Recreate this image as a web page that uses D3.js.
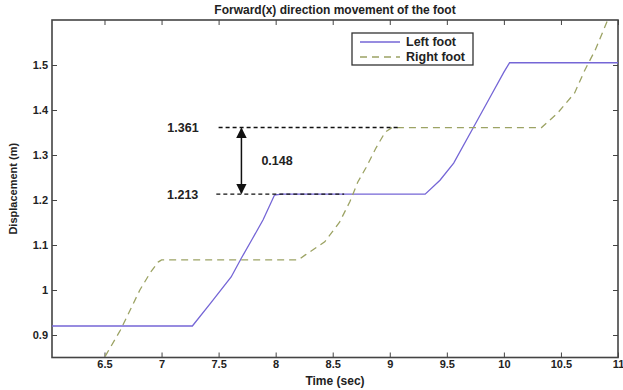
<!DOCTYPE html>
<html>
<head>
<meta charset="utf-8">
<script src="https://cdn.jsdelivr.net/npm/d3@7"></script>
<style>
  body { margin: 0; background: #fff; }
  svg text { font-family: "Liberation Sans", Arial, sans-serif; fill: #222; }
</style>
</head>
<body>
<svg id="chart" width="623" height="390"></svg>
<script>
// values (time in sec, displacement in m)
const leftTime  = [6.0, 7.27, 7.43, 7.61, 7.70, 7.79, 7.89, 7.99, 8.05, 9.31, 9.44, 9.56, 9.73, 9.88, 10.0, 10.05, 11.0];
const leftDisp  = [0.92, 0.92, 0.971, 1.029, 1.071, 1.111, 1.156, 1.211, 1.213, 1.213, 1.244, 1.282, 1.36, 1.429, 1.484, 1.505, 1.505];
const rightTime = [6.45, 6.50, 6.64, 6.81, 6.90, 6.97, 7.0, 8.20, 8.26, 8.43, 8.56, 8.65, 8.72, 8.79, 8.88, 8.96, 9.02, 10.33, 10.47, 10.62, 10.71, 10.80, 10.91, 11.0];
const rightDisp = [0.83, 0.85, 0.911, 1.0, 1.038, 1.062, 1.067, 1.067, 1.078, 1.107, 1.151, 1.196, 1.240, 1.271, 1.316, 1.351, 1.361, 1.361, 1.393, 1.438, 1.489, 1.533, 1.60, 1.64];

const xTicks = [6.5, 7, 7.5, 8, 8.5, 9, 9.5, 10, 10.5, 11];
const yTicks = [0.9, 1, 1.1, 1.2, 1.3, 1.4, 1.5];

const highStep = 1.361, lowStep = 1.213, stepDiff = 0.148;
const highGuide = [7.50, 9.09];   // x-extent of dashed guide at 1.361
const lowGuide  = [7.48, 8.60];   // x-extent of dashed guide at 1.213
const arrowTime = 7.70;

const svg = d3.select('#chart');
const m = { left: 52, right: 618, top: 20, bottom: 357.5 };

const x = d3.scaleLinear().domain([6.04, 11]).range([m.left, m.right]);
const y = d3.scaleLinear().domain([0.85, 1.6]).range([m.bottom, m.top]);

const defs = svg.append('defs');
defs.append('clipPath').attr('id', 'clip')
  .append('rect').attr('x', m.left).attr('y', m.top).attr('width', m.right - m.left).attr('height', m.bottom - m.top);

// axes: matlab style, ticks pointing inward on all four sides
const fmt = d => String(d);
const axB = svg.append('g').attr('transform', `translate(0,${m.bottom})`)
  .call(d3.axisBottom(x).tickValues(xTicks).tickSize(-5).tickPadding(3).tickFormat(fmt));
const axT = svg.append('g').attr('transform', `translate(0,${m.top})`)
  .call(d3.axisTop(x).tickValues(xTicks).tickSize(-5).tickFormat(''));
const axL = svg.append('g').attr('transform', `translate(${m.left},0)`)
  .call(d3.axisLeft(y).tickValues(yTicks).tickSize(-5).tickPadding(4).tickFormat(fmt));
const axR = svg.append('g').attr('transform', `translate(${m.right},0)`)
  .call(d3.axisRight(y).tickValues(yTicks).tickSize(-5).tickFormat(''));

[axB, axT, axL, axR].forEach(a => {
  a.select('.domain').remove();
  a.selectAll('line').attr('stroke', '#444');
  a.selectAll('text').style('font-size', '11px').style('font-weight', 'bold').attr('fill', '#333');
});

svg.append('rect').attr('x', m.left).attr('y', m.top).attr('width', m.right - m.left).attr('height', m.bottom - m.top)
  .attr('fill', 'none').attr('stroke', '#444').attr('stroke-width', 1.6);

// series
const plot = svg.append('g').attr('clip-path', 'url(#clip)');
const line = d3.line().x(d => x(d[0])).y(d => y(d[1]));

plot.append('path').datum(leftTime.map((t, i) => [t, leftDisp[i]]))
  .attr('d', line).attr('fill', 'none').attr('stroke', '#7566d6').attr('stroke-width', 1.3);

plot.append('path').datum(rightTime.map((t, i) => [t, rightDisp[i]]))
  .attr('d', line).attr('fill', 'none').attr('stroke', '#9ca364').attr('stroke-width', 1.3)
  .attr('stroke-dasharray', '7,5');

// annotation
const ann = svg.append('g');
ann.append('line').attr('x1', x(highGuide[0])).attr('x2', x(highGuide[1]))
  .attr('y1', y(highStep)).attr('y2', y(highStep))
  .attr('stroke', '#111').attr('stroke-width', 1.4).attr('stroke-dasharray', '4,3');
ann.append('line').attr('x1', x(lowGuide[0])).attr('x2', x(lowGuide[1]))
  .attr('y1', y(lowStep)).attr('y2', y(lowStep))
  .attr('stroke', '#111').attr('stroke-width', 1.4).attr('stroke-dasharray', '4,3');

defs.append('marker').attr('id', 'ah').attr('viewBox', '0 0 10 10').attr('refX', 9).attr('refY', 5)
  .attr('markerWidth', 7).attr('markerHeight', 7).attr('orient', 'auto-start-reverse')
  .append('path').attr('d', 'M0,0L10,5L0,10z').attr('fill', '#111');

ann.append('line').attr('x1', x(arrowTime)).attr('x2', x(arrowTime))
  .attr('y1', y(highStep) + 1).attr('y2', y(lowStep) - 1)
  .attr('stroke', '#111').attr('stroke-width', 1.5)
  .attr('marker-start', 'url(#ah)').attr('marker-end', 'url(#ah)');

ann.append('text').attr('x', x(highGuide[0]) - 20).attr('y', y(highStep)).attr('dy', '0.35em')
  .attr('text-anchor', 'end').style('font-size', '12.5px').style('font-weight', 'bold').text(highStep.toFixed(3));
ann.append('text').attr('x', x(lowGuide[0]) - 18).attr('y', y(lowStep)).attr('dy', '0.35em')
  .attr('text-anchor', 'end').style('font-size', '12.5px').style('font-weight', 'bold').text(lowStep.toFixed(3));
ann.append('text').attr('x', x(arrowTime) + 20).attr('y', y((highStep + lowStep) / 2)).attr('dy', '0.35em')
  .style('font-size', '12.5px').style('font-weight', 'bold').text(stepDiff.toFixed(3));

// legend
const lg = svg.append('g').attr('transform', 'translate(352,33)');
lg.append('rect').attr('width', 121).attr('height', 32).attr('fill', '#fff')
  .attr('stroke', '#333').attr('stroke-width', 1.3);
lg.append('line').attr('x1', 8).attr('x2', 48).attr('y1', 9).attr('y2', 9)
  .attr('stroke', '#7566d6').attr('stroke-width', 1.3);
lg.append('line').attr('x1', 8).attr('x2', 48).attr('y1', 24).attr('y2', 24)
  .attr('stroke', '#9ca364').attr('stroke-width', 1.3).attr('stroke-dasharray', '7,5');
lg.append('text').attr('x', 54).attr('y', 9).attr('dy', '0.35em').style('font-size', '12.5px').style('font-weight', 'bold').text('Left foot');
lg.append('text').attr('x', 54).attr('y', 24).attr('dy', '0.35em').style('font-size', '12.5px').style('font-weight', 'bold').text('Right foot');

// titles
svg.append('text').attr('x', (m.left + m.right) / 2).attr('y', 14).attr('text-anchor', 'middle')
  .style('font-size', '12px').style('font-weight', 'bold').text('Forward(x) direction movement of the foot');
svg.append('text').attr('x', (m.left + m.right) / 2).attr('y', 385).attr('text-anchor', 'middle')
  .style('font-size', '12px').style('font-weight', 'bold').text('Time (sec)');
svg.append('text').attr('transform', `translate(17,${(m.top + m.bottom) / 2}) rotate(-90)`)
  .attr('text-anchor', 'middle').style('font-size', '11px').style('font-weight', 'bold').text('Displacement (m)');
</script>
</body>
</html>
